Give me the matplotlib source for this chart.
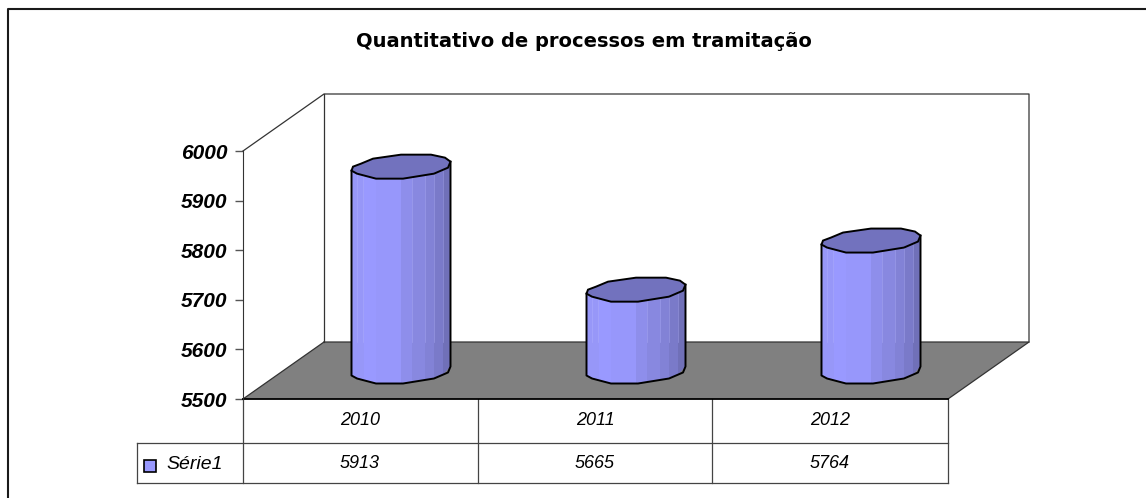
import numpy as np
import matplotlib
matplotlib.use('Agg')
import matplotlib.pyplot as plt
from matplotlib.patches import Polygon

plt.rcParams['font.family'] = ['Liberation Sans', 'DejaVu Sans']

categories = ['2010', '2011', '2012']
values = [5913, 5665, 5764]
series_name = 'Série1'
y_ticks = [5500, 5600, 5700, 5800, 5900, 6000]
title = 'Quantitativo de processos em tramitação'

W, H = 1146, 498
# front plane of the 3d box, in pixels
LEFT, RIGHT, BOTTOM, TOP = 243, 948, 399, 151
DEPTH_X, DEPTH_Y = 81, 57

fig = plt.figure(figsize=(W / 100, H / 100), dpi=100)

# overlay in pixel coords for frame, title and table
bg = fig.add_axes([0, 0, 1, 1])
bg.set_xlim(0, W)
bg.set_ylim(H, 0)
bg.axis('off')

# frame only has top and left sides, the rest is cropped away
bg.plot([8, 8, W], [H, 9, 9], color='#1a1a1a', lw=1.5)
bg.text(584, 41, title, ha='center', va='center', fontsize=14, fontweight='bold',
        family='DejaVu Sans', color='black')

# data table below the plot
tc = '#444444'
bg.plot([137, 948], [443, 443], color=tc, lw=0.9)
bg.plot([137, 948], [483, 483], color=tc, lw=0.9)
bg.plot([137, 137], [443, 483], color=tc, lw=0.9)
for x in [243, 478, 712, 948]:
    bg.plot([x, x], [399, 483], color=tc, lw=0.9)
cell_x = [360, 595, 830]
for x, c, v in zip(cell_x, categories, values):
    bg.text(x, 420, c, ha='center', va='center', style='italic', fontsize=13)
    bg.text(x, 463, str(v), ha='center', va='center', style='italic', fontsize=13)
bg.text(166, 464, series_name, ha='left', va='center', style='italic', fontsize=14)
bg.add_patch(plt.Rectangle((144, 460), 12, 12, fc='#9999FF', ec='black', lw=1.2))

# data axes sit on the front plane
ax = fig.add_axes([LEFT / W, 1 - BOTTOM / H, (RIGHT - LEFT) / W, (BOTTOM - TOP) / H])
ax.set_xlim(0, len(categories))
ax.set_ylim(y_ticks[0], y_ticks[-1])
ax.patch.set_visible(False)
for s in ['top', 'right', 'bottom']:
    ax.spines[s].set_visible(False)
ax.spines['left'].set_color('#333333')
ax.set_xticks([])
ax.set_yticks(y_ticks)
ax.tick_params(axis='y', length=6, width=1, color='#555555', pad=5)
for lab in ax.get_yticklabels():
    lab.set_fontsize(15)
    lab.set_fontweight('bold')
    lab.set_fontstyle('italic')

px_x = (RIGHT - LEFT) / len(categories)
px_y = (BOTTOM - TOP) / (y_ticks[-1] - y_ticks[0])
dx = DEPTH_X / px_x
dy = DEPTH_Y / px_y
y0, y1 = y_ticks[0], y_ticks[-1]
xn = len(categories)

# walls and floor
ax.add_patch(Polygon([(0, y0), (dx, y0 + dy), (xn + dx, y0 + dy), (xn, y0)], fc='#808080', ec='none', clip_on=False))
wall = dict(color='#333333', lw=0.9, clip_on=False)
ax.plot([0, dx, xn + dx, xn + dx], [y1, y1 + dy, y1 + dy, y0 + dy], **wall)
ax.plot([dx, dx], [y1 + dy, y0 + dy], **wall)
ax.plot([0, dx], [y0, y0 + dy], **wall)
ax.plot([dx, xn + dx, xn], [y0 + dy, y0 + dy, y0], **wall)
ax.plot([0, xn], [y0, y0], color='black', lw=1.3, clip_on=False)

# cylinder rim, pixel offsets from the rim centre (y down)
rim_back = [(-49.5, 5), (-48, 1), (-40, -2), (-28, -7), (0, -11), (30, -11), (44, -8), (49.5, -4)]
rim_front = [(-49.5, 5), (-44, 8), (-25, 13), (2, 13), (33, 8), (47, 2), (49.5, -4)]
strip_x = [-49.5, -37, -25, 0, 11, 24, 33, 42, 49.5]
strip_col = ['#9797F8', '#9999FF', '#9797FB', '#8E8EEB', '#8888E0', '#8282D6', '#7A7AC9', '#7070B8']
highlight_x = [-44, -38, 11, 24, 33, 42]
top_col = '#7272BE'


def to_data(cx, cy, p):
    return cx + p[0] / px_x, cy - p[1] / px_y


fx = np.array([p[0] for p in rim_front])
fy = np.array([p[1] for p in rim_front])

for i, v in enumerate(values):
    cx = i + 0.5 + dx / 2
    base = y0 + dy / 2
    top = v + dy / 2
    for j in range(len(strip_col)):
        xs = np.array([strip_x[j], strip_x[j + 1]])
        ys = np.interp(xs, fx, fy)
        pts = [to_data(cx, top, (xs[0], ys[0])), to_data(cx, top, (xs[1], ys[1])),
               to_data(cx, base, (xs[1], ys[1])), to_data(cx, base, (xs[0], ys[0]))]
        ax.add_patch(Polygon(pts, fc=strip_col[j], ec='none', clip_on=False, zorder=3))
    # thin pale lines on the side, they stop where the floor starts
    for hx in highlight_x:
        hy = np.interp(hx, fx, fy)
        xa, ya = to_data(cx, top, (hx, hy))
        ax.plot([xa, xa], [ya, y0 + dy], color='#B4B4FF', lw=0.5, alpha=0.5, clip_on=False, zorder=3.5)
    # outline of the side
    edge = [to_data(cx, top, rim_front[0])] + [to_data(cx, base, p) for p in rim_front] + [to_data(cx, top, rim_front[-1])]
    ax.plot(*zip(*edge), color='black', lw=1.4, clip_on=False, zorder=4)
    # top cap
    cap = [to_data(cx, top, p) for p in rim_back] + [to_data(cx, top, p) for p in rim_front[::-1][1:]]
    ax.add_patch(Polygon(cap, fc=top_col, ec='black', lw=1.4, clip_on=False, zorder=5))

fig.savefig('out.png', dpi=100)
